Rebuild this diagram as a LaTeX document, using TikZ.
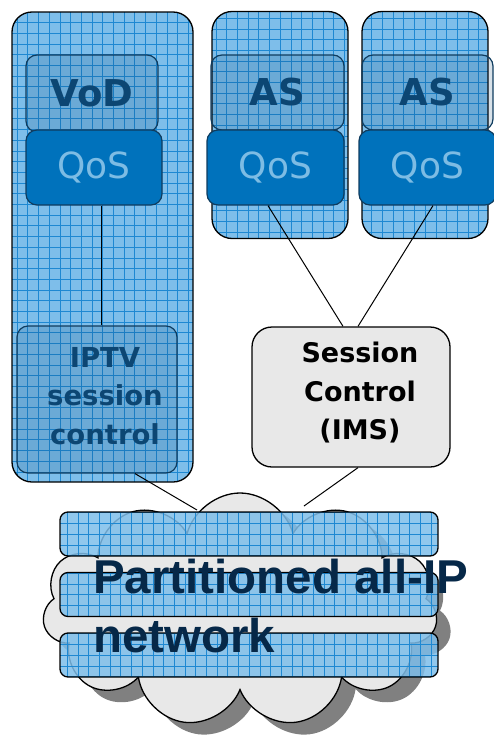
\documentclass[tikz,border=0pt]{standalone}
\usepackage{fontspec}
\setmainfont{DejaVu Sans}
\newfontfamily\arialfont{Liberation Sans}
\usetikzlibrary{calc,shapes.symbols,shadows}
\definecolor{gridfill}{RGB}{126,190,234}
\definecolor{gridline}{RGB}{30,136,210}
\definecolor{qosblue}{RGB}{0,114,188}
\definecolor{qostext}{RGB}{125,188,228}
\definecolor{navy}{RGB}{12,70,115}
\definecolor{titlenavy}{RGB}{6,40,72}
\definecolor{edgeblue}{RGB}{15,60,95}
\definecolor{cloudgray}{RGB}{232,232,232}
\definecolor{shadowgray}{RGB}{128,128,128}

\begin{document}
\begin{tikzpicture}[x=1pt, y=-1pt,
    gridded/.style={path picture={\draw[gridline, line width=0.35pt]
        (path picture bounding box.south west) grid[step=10.7pt] (path picture bounding box.north east);}},
    column/.style={draw=black, line width=1.3pt, fill=gridfill, gridded, rounded corners=20pt, inner sep=0pt},
    innerbox/.style={draw=edgeblue, line width=1.2pt, fill=navy, fill opacity=0.16, text opacity=1,
        text=navy, rounded corners=11pt, inner sep=0pt, font=\fontsize{37}{44}\selectfont\bfseries},
    qosbox/.style={draw=edgeblue, line width=1.2pt, fill=qosblue, rounded corners=11pt, inner sep=0pt,
        text=qostext, font=\fontsize{36}{43}\selectfont},
    ctrlbox/.style={draw=black, line width=1.3pt, fill=cloudgray, rounded corners=20pt, inner sep=0pt},
    netbar/.style={draw=black, line width=1.3pt, fill=gridfill, fill opacity=0.85, gridded,
        rounded corners=8pt, minimum width=378pt, minimum height=44pt, inner sep=0pt},
    titletext/.style={anchor=base west, text=titlenavy, inner sep=0pt,
        font=\arialfont\bfseries\fontsize{47.5}{59}\selectfont},
    link/.style={draw=black, line width=1pt}]
\useasboundingbox (0,0) rectangle (493,739);

% columns
\node[column, minimum width=181pt, minimum height=470pt] (vodcol) at (102.5,247) {};
\node[column, minimum width=136pt, minimum height=227pt] (ascolA) at (280,125) {};
\node[column, minimum width=126pt, minimum height=227pt] (ascolB) at (425,125) {};

% servers
\node[innerbox, minimum width=132pt, minimum height=77pt] (vod) at (92,93.5) {VoD};
\node[innerbox, minimum width=133pt, minimum height=75pt] (asA) at (277.5,92.5) {AS};
\node[innerbox, minimum width=131pt, minimum height=75pt] (asB) at (427.5,92.5) {AS};

\node[qosbox, minimum width=136pt, minimum height=75pt] (qosvod) at (94,167.5) {QoS};
\node[qosbox, minimum width=137pt, minimum height=75pt] (qosA) at (275.5,167.5) {QoS};
\node[qosbox, minimum width=137pt, minimum height=75pt] (qosB) at (427.5,167.5) {QoS};

% IPTV session control
\node[innerbox, minimum width=160pt, minimum height=147pt] (iptv) at (97,399.5) {};
\node[text=navy, align=center, font=\fontsize{27.5}{38.5}\selectfont\bfseries] (iptvtext) at (105,396) {IPTV\\session\\control};

\draw[link] ($(qosvod.south)+(7,0)$) -- ($(iptv.north)+(4,0)$);

% IMS
\node[ctrlbox, minimum width=198pt, minimum height=140pt] (ims) at (351,397) {};
\node[align=center, font=\fontsize{27}{38.5}\selectfont\bfseries] (imstext) at (360,393) {Session\\Control\\(IMS)};
\draw[link] ($(qosA.south)+(-7.5,0)$) -- ($(ims.north)+(-8,0)$);
\draw[link] ($(qosB.south)+(5.5,0)$) -- ($(ims.north)+(7,0)$);

% network
\coordinate (imsfoot) at (304,506);
\coordinate (iptvfoot) at (197,510);
\draw[link] ($(ims.south)+(7,0)$) -- (imsfoot);
\draw[link] ($(iptv.south)+(38,0)$) -- (iptvfoot);
\node[cloud, cloud puffs=11, cloud ignores aspect, minimum width=395pt, minimum height=234pt,
    draw=black, line width=1.3pt, fill=cloudgray,
    drop shadow={shadow xshift=14pt, shadow yshift=-12pt, fill=shadowgray, opacity=1}] (net) at (240,610) {};
\node[netbar] (barA) at (249,534) {};
\node[netbar] (barB) at (249,594.5) {};
\node[netbar] (barC) at (249,655) {};
\node[titletext] (title) at (93,593) {Partitioned all-IP};
\node[titletext] (titlenext) at (93,652) {network};
\end{tikzpicture}
\end{document}
